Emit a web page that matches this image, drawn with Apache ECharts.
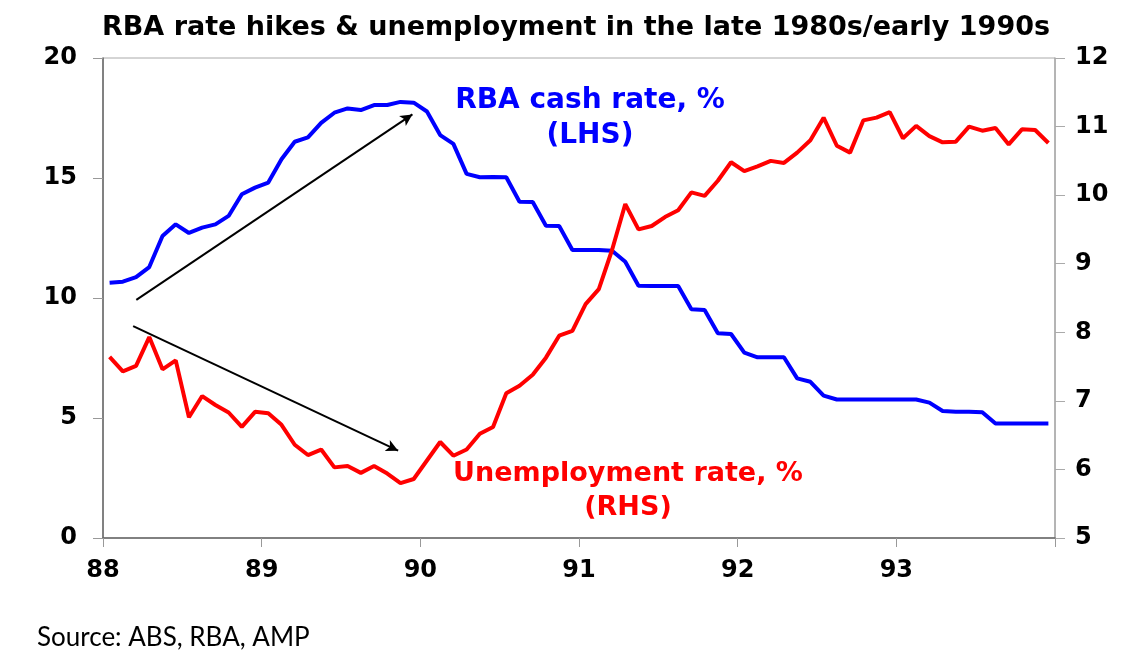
<!DOCTYPE html>
<html lang="en">
<head>
    <meta charset="UTF-8">
    <title>RBA rate hikes & unemployment</title>
    <script src="https://cdn.jsdelivr.net/npm/echarts@6/dist/echarts.min.js"></script>
    <style>
        html, body { margin: 0; padding: 0; background: #fff; }
        #chart1 { width: 1130px; height: 668px; }
    </style>
</head>
<body>
<div id="chart1"></div>
<script type="text/javascript">

    // monthly, Jan 1988 .. Dec 1993
    var cashRate = [
        10.64, 10.68, 10.87, 11.29, 12.58, 13.07, 12.71, 12.93, 13.07, 13.42, 14.32, 14.60,
        14.81, 15.78, 16.51, 16.69, 17.30, 17.72, 17.90, 17.83, 18.04, 18.04, 18.17, 18.14,
        17.77, 16.79, 16.42, 15.17, 15.03, 15.04, 15.03, 14.01, 14.00, 13.01, 13.00, 12.00,
        12.00, 12.00, 11.97, 11.51, 10.51, 10.50, 10.50, 10.50, 9.53, 9.50, 8.53, 8.50,
        7.72, 7.53, 7.53, 7.53, 6.65, 6.51, 5.93, 5.77, 5.77, 5.77, 5.77, 5.77,
        5.77, 5.77, 5.64, 5.29, 5.26, 5.26, 5.24, 4.77, 4.77, 4.77, 4.77, 4.77
    ];
    var unempRate = [
        7.64, 7.43, 7.51, 7.93, 7.46, 7.59, 6.76, 7.07, 6.94, 6.83, 6.62, 6.84,
        6.82, 6.65, 6.36, 6.21, 6.29, 6.03, 6.05, 5.95, 6.05, 5.94, 5.80, 5.86,
        6.13, 6.40, 6.20, 6.29, 6.52, 6.62, 7.11, 7.22, 7.38, 7.63, 7.95, 8.02,
        8.41, 8.63, 9.20, 9.87, 9.50, 9.55, 9.68, 9.78, 10.04, 9.99, 10.21, 10.48,
        10.35, 10.42, 10.50, 10.47, 10.62, 10.80, 11.13, 10.72, 10.62, 11.09, 11.13, 11.21,
        10.83, 11.01, 10.86, 10.77, 10.78, 11.00, 10.94, 10.98, 10.74, 10.96, 10.95, 10.76
    ];
    var startYear = 88;
    var xTicks = [88, 89, 90, 91, 92, 93];

    // arrows, in (year, LHS value)
    var arrowUp = [[88.21, 9.92], [89.95, 17.65]];
    var arrowDown = [[88.19, 8.83], [89.86, 3.64]];

    var boldFont = '"DejaVu Sans", "Liberation Sans", Arial, sans-serif';

    function toPairs(vals) {
        var out = [];
        for (var i = 0; i < vals.length; i++) {
            out.push([startYear + (i + 0.5) / 12, vals[i]]);
        }
        return out;
    }

    var myChart1 = echarts.init(document.getElementById('chart1'));
    myChart1.setOption({
        backgroundColor: '#fff',
        animation: false,
        grid: {
            left: 103, right: 75, top: 58, bottom: 130,
            show: true, borderColor: '#aaa', borderWidth: 1
        },
        xAxis: {
            type: 'value',
            min: 88, max: 94, interval: 1,
            axisLine: {lineStyle: {color: '#666', width: 1.5}},
            axisTick: {show: true, length: 9, lineStyle: {color: '#999'}},
            splitLine: {show: false},
            axisLabel: {
                margin: 21,
                fontSize: 24, fontWeight: 'bold', color: '#000', fontFamily: boldFont,
                formatter: function (v) { return xTicks.indexOf(v) >= 0 ? String(v) : ''; }
            }
        },
        yAxis: [{
            type: 'value', min: 0, max: 20, interval: 5, position: 'left',
            axisLine: {show: true, lineStyle: {color: '#666', width: 1.5}},
            axisTick: {show: true, length: 10, lineStyle: {color: '#999'}},
            splitLine: {show: false},
            axisLabel: {margin: 26, fontSize: 24, fontWeight: 'bold', color: '#000', fontFamily: boldFont}
        }, {
            type: 'value', min: 5, max: 12, interval: 1, position: 'right',
            axisLine: {show: true, lineStyle: {color: '#aaa', width: 1.5}},
            axisTick: {show: true, length: 10, lineStyle: {color: '#aaa'}},
            splitLine: {show: false},
            axisLabel: {margin: 20, fontSize: 24, fontWeight: 'bold', color: '#000', fontFamily: boldFont}
        }],
        series: [{
            name: 'RBA cash rate, %',
            type: 'line',
            yAxisIndex: 0,
            data: toPairs(cashRate),
            showSymbol: false,
            lineStyle: {color: '#0000ff', width: 4},
            itemStyle: {color: '#0000ff'},
            markLine: {
                silent: true,
                symbol: ['none', 'arrow'],
                symbolSize: [9, 12],
                label: {show: false},
                lineStyle: {color: '#000', width: 2, type: 'solid'},
                data: [
                    [{coord: arrowUp[0]}, {coord: arrowUp[1]}],
                    [{coord: arrowDown[0]}, {coord: arrowDown[1]}]
                ]
            }
        }, {
            name: 'Unemployment rate, %',
            type: 'line',
            yAxisIndex: 1,
            data: toPairs(unempRate),
            showSymbol: false,
            lineStyle: {color: '#ff0000', width: 4},
            itemStyle: {color: '#ff0000'}
        }],
        graphic: [{
            type: 'text', silent: true,
            style: {
                x: 576, y: 28, text: 'RBA rate hikes & unemployment in the late 1980s/early 1990s',
                font: 'bold 27px ' + boldFont, fill: '#000', textAlign: 'center', textVerticalAlign: 'middle'
            }
        }, {
            type: 'text', silent: true,
            style: {
                x: 590, y: 101, text: 'RBA cash rate, %',
                font: 'bold 28px ' + boldFont, fill: '#0000ff', textAlign: 'center', textVerticalAlign: 'middle'
            }
        }, {
            type: 'text', silent: true,
            style: {
                x: 590, y: 136, text: '(LHS)',
                font: 'bold 28px ' + boldFont, fill: '#0000ff', textAlign: 'center', textVerticalAlign: 'middle'
            }
        }, {
            type: 'text', silent: true,
            style: {
                x: 628, y: 474, text: 'Unemployment rate, %',
                font: 'bold 27px ' + boldFont, fill: '#ff0000', textAlign: 'center', textVerticalAlign: 'middle'
            }
        }, {
            type: 'text', silent: true,
            style: {
                x: 628, y: 508, text: '(RHS)',
                font: 'bold 27px ' + boldFont, fill: '#ff0000', textAlign: 'center', textVerticalAlign: 'middle'
            }
        }, {
            type: 'text', silent: true,
            style: {
                x: 37, y: 638, text: 'Source: ABS, RBA, AMP',
                font: '26px Lato, "Open Sans", sans-serif', fill: '#000', textAlign: 'left', textVerticalAlign: 'middle'
            }
        }]
    });

</script>
</body>
</html>
